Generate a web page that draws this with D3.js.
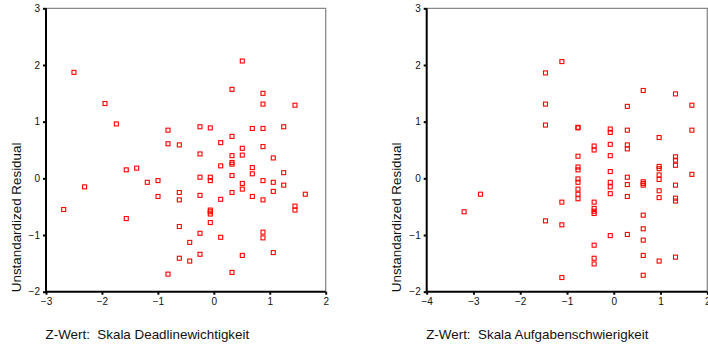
<!DOCTYPE html>
<html>
<head>
<meta charset="utf-8">
<script src="https://cdn.jsdelivr.net/npm/d3@7"></script>
<style>
  html, body { margin: 0; padding: 0; background: #fff; }
  svg { display: block; font-family: Arial, "Liberation Sans", sans-serif; }
  .tick text { font-size: 10px; fill: #111; }
  .title { font-size: 13.4px; fill: #111; white-space: pre; }
</style>
</head>
<body>
<svg id="chart" width="708" height="349"></svg>
<script>
// Residual plots: unstandardized residual against two standardized predictors

const residTicks = [-2, -1, 0, 1, 2, 3];
const deadlineTicks = [-3, -2, -1, 0, 1, 2];
const difficultyTicks = [-4, -3, -2, -1, 0, 1, 2];

// Z-Wert Skala Deadlinewichtigkeit
const deadlineZ = [
  -2.50, -1.945, -1.743, -1.565, -1.379, -0.819, -0.819, -0.617, -0.247, -0.063,
  -0.247, 0.123, 0.325, 0.509, 0.325, 0.325, 0.325, 0.325, 0.123, 0.509,
  0.509, 0.688, 0.688, 0.688, 0.879, 0.879, 0.879, 0.879, 1.063, 1.249,
  1.249, 1.451, 0.325, -2.684, -2.31, -1.565, -1.189, -0.998, -0.998, -0.819,
  -0.617, -0.617, -0.617, -0.617, -0.431, -0.431, -0.247, -0.247, -0.247, -0.247,
  -0.063, -0.063, -0.063, -0.063, -0.063, -0.063, 0.123, 0.123, 0.325, 0.325,
  0.509, 0.509, 0.509, 0.688, 0.879, 0.879, 0.879, 0.879, 1.063, 1.063,
  1.063, 1.249, 1.451, 1.451, 1.635
];
const deadlineResid = [
  1.87, 1.32, 0.96, 0.15, 0.18, 0.85, 0.61, 0.59, 0.91, 0.89,
  0.43, 0.63, 1.57, 2.07, 0.74, 0.40, 0.28, 0.25, 0.22, 0.53,
  0.41, 0.88, 0.19, 0.08, 1.50, 1.31, 0.88, 0.56, 0.36, 0.91,
  0.10, 1.29, 0.05, -0.55, -0.15, -0.71, -0.07, -0.04, -0.32, -1.69,
  -0.25, -0.38, -0.85, -1.41, -1.13, -1.46, 0.02, -0.30, -0.97, -1.34,
  0.02, -0.04, -0.56, -0.59, -0.63, -0.78, -0.37, -1.04, -0.25, -1.66,
  -0.09, -0.19, -1.36, -0.32, -0.04, -0.38, -0.95, -1.05, -0.07, -0.23,
  -1.31, -0.12, -0.49, -0.56, -0.28
];

// Z-Wert Skala Aufgabenschwierigkeit
const difficultyZ = [
  -1.46, -1.11, -1.46, -1.46, -0.765, -0.765, -0.765, -0.765, -0.765, -0.42,
  -0.42, -0.075, -0.075, -0.075, -0.075, -0.075, 0.29, 0.29, 0.29, 0.29,
  0.63, 0.97, 0.97, 0.97, 0.97, 0.97, 1.32, 1.32, 1.32, 1.32,
  1.67, 1.67, 1.67, -3.20, -2.85, -1.46, -1.11, -1.11, -1.11, -0.765,
  -0.765, -0.765, -0.765, -0.765, -0.42, -0.42, -0.42, -0.42, -0.42, -0.42,
  -0.42, -0.075, -0.075, -0.075, -0.075, 0.29, 0.29, 0.29, 0.29, 0.63,
  0.63, 0.63, 0.63, 0.63, 0.63, 0.63, 0.63, 0.97, 0.97, 0.97,
  1.32, 1.32, 1.32, 1.32
];
const difficultyResid = [
  1.86, 2.06, 1.31, 0.94, 0.89, 0.90, 0.39, 0.20, 0.15, 0.57,
  0.50, 0.87, 0.81, 0.60, 0.40, 0.12, 1.27, 0.85, 0.59, 0.52,
  1.55, 0.72, 0.21, 0.17, 0.06, -0.02, 1.49, 0.38, 0.32, 0.23,
  1.29, 0.85, 0.07, -0.59, -0.28, -0.75, -0.42, -0.82, -1.75, -0.01,
  -0.07, -0.19, -0.28, -0.36, -0.42, -0.53, -0.58, -0.62, -1.18, -1.41,
  -1.51, -0.07, -0.15, -0.27, -1.01, 0.02, -0.11, -0.32, -0.99, -0.06,
  -0.09, -0.12, -0.65, -0.89, -1.09, -1.36, -1.71, -0.22, -0.34, -1.46,
  -0.12, -0.35, -0.40, -1.39
];

const yLabel = "Unstandardized Residual";
const panels = [
  { xs: deadlineZ, ys: deadlineResid, ticks: deadlineTicks,
    title: "Z-Wert:  Skala Deadlinewichtigkeit", left: 46, right: 325.7 },
  { xs: difficultyZ, ys: difficultyResid, ticks: difficultyTicks,
    title: "Z-Wert:  Skala Aufgabenschwierigkeit", left: 426.7, right: 707.3 }
];

const plotTop = 8.3, plotBottom = 291.7;
const svg = d3.select("#chart");

panels.forEach(p => {
  const x = d3.scaleLinear().domain(d3.extent(p.ticks)).range([p.left, p.right]);
  const y = d3.scaleLinear().domain(d3.extent(residTicks)).range([plotBottom, plotTop]);
  const g = svg.append("g");

  // frame: grey top and right edges
  g.append("path")
    .attr("d", `M${p.left},${plotTop}H${p.right}V${plotBottom}`)
    .attr("fill", "none").attr("stroke", "#8a8a8a").attr("stroke-width", 1.3);

  const ax = g.append("g").attr("transform", `translate(${p.left},0)`)
    .call(d3.axisLeft(y).tickValues(residTicks).tickSize(3).tickPadding(3).tickFormat(d3.format("d")));
  const bx = g.append("g").attr("transform", `translate(0,${plotBottom})`)
    .call(d3.axisBottom(x).tickValues(p.ticks).tickSize(3).tickPadding(3).tickFormat(d3.format("d")));
  [ax, bx].forEach(a => {
    a.select(".domain").attr("stroke", "#000").attr("stroke-width", 2);
    a.selectAll(".tick line").attr("stroke", "#000").attr("stroke-width", 2);
    a.selectAll(".tick text").attr("fill", "#111");
  });
  ax.selectAll(".domain").attr("d", `M0,${plotBottom}V${plotTop}`);
  bx.selectAll(".domain").attr("d", `M${p.left},0H${p.right}`);

  // points: hollow red squares
  const pts = p.xs.map((v, i) => [v, p.ys[i]]);
  g.append("g").selectAll("rect").data(pts).join("rect")
    .attr("x", d => x(d[0]) - 2).attr("y", d => y(d[1]) - 2)
    .attr("width", 4).attr("height", 4)
    .attr("fill", "none").attr("stroke", "#ff0000").attr("stroke-width", 1.1);

  // axis titles
  g.append("text").attr("class", "title")
    .attr("transform", `translate(${p.left - 25.5},${plotBottom + 0.5}) rotate(-90)`)
    .attr("text-anchor", "start")
    .text(yLabel);
  g.append("text").attr("class", "title")
    .attr("x", p.left - 0.5).attr("y", 339)
    .text(p.title);
});
</script>
</body>
</html>
